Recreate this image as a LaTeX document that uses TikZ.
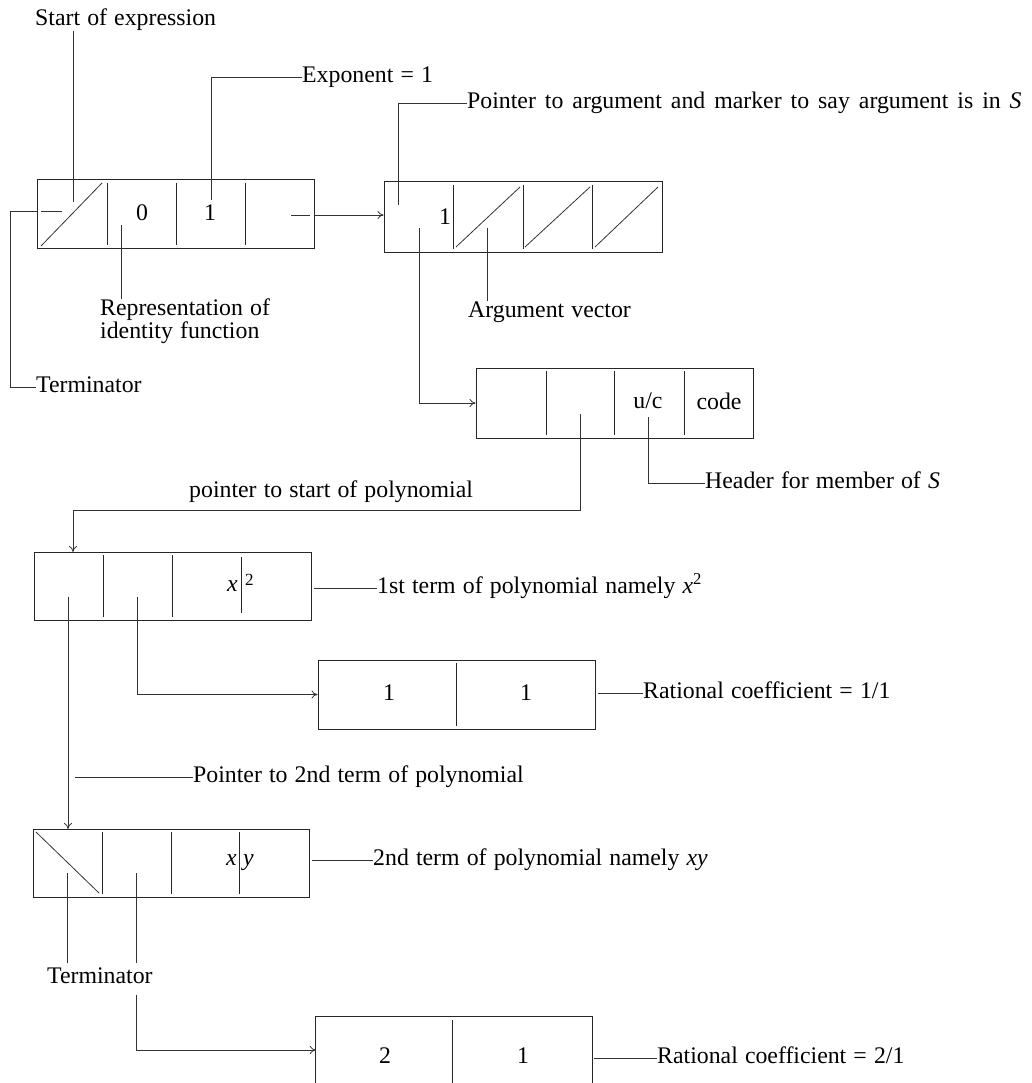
\documentclass[tikz,border=0pt]{standalone}
\usepackage{fontspec}
\setmainfont[WordSpace=1.2]{Liberation Serif}
\usetikzlibrary{arrows.meta}
\newcommand{\diafs}{\fontsize{23.8}{20}\selectfont}
\newcommand{\diasmall}{\fontsize{17}{18}\selectfont}
\begin{document}
\begin{tikzpicture}[x=1pt,y=-1pt,
  cellbox/.style={draw=black!85, line width=1pt, rectangle, inner sep=0pt},
  boxline/.style={draw=black!85, line width=1pt},
  lab/.style={font=\diafs, inner sep=0pt, text height=16pt, text depth=5pt, anchor=west},
  val/.style={font=\diafs, inner sep=0pt},
  conn/.style={draw=black!80, line width=0.8pt},
  arr/.style={conn, -{To[length=6pt,width=8pt]}}]
\useasboundingbox (0,0) rectangle (1031,1083);

% ---------- boxes ----------
\node[cellbox, minimum width=277pt, minimum height=68pt] (b1) at (175.5,214) {};
\node[cellbox, minimum width=278pt, minimum height=70pt] (b2) at (523,217) {};
\node[cellbox, minimum width=277pt, minimum height=70pt] (b3) at (614.5,403) {};
\node[cellbox, minimum width=277pt, minimum height=68pt] (b4) at (172.5,586) {};
\node[cellbox, minimum width=277pt, minimum height=69pt] (b11) at (456.5,694.5) {};
\node[cellbox, minimum width=276pt, minimum height=68pt] (b5) at (171,863) {};
\node[inner sep=0pt, minimum width=276pt, minimum height=66pt] (b6) at (454,1050) {};
\draw[boxline] (b6.south west) -- (b6.north west) -- (b6.north east) -- (b6.south east);

% ---------- dividers ----------
\foreach \x in {107,176,245} \draw[boxline] (\x,183) -- (\x,245);
\foreach \x in {453,523,592} \draw[boxline] (\x,185) -- (\x,249);
\foreach \x in {546,614,684} \draw[boxline] (\x,371) -- (\x,435);
\foreach \x in {103,172} \draw[boxline] (\x,555) -- (\x,617);
\draw[boxline] (241,557) -- (241,613);
\draw[boxline] (456,663) -- (456,726);
\foreach \x in {102,171} \draw[boxline] (\x,832) -- (\x,894);
\draw[boxline] (239,832) -- (239,894);
\draw[boxline] (452,1020) -- (452,1083);

% ---------- cell marks ----------
\draw[conn] (41,211) -- (62,211);
\draw[conn] (41,246) -- (102,183);
\draw[conn] (456,247) -- (520,187);
\draw[conn] (525,247) -- (590,187);
\draw[conn] (595,247) -- (658,187);
\draw[conn] (36,832) -- (99,893);

% ---------- values ----------
\node[val] (v10) at (142,213) {0};
\node[val] (v11) at (210,213) {1};
\node[val] (v21) at (445,217) {1};
\node[val] (v3a) at (648,401) {u/c};
\node[val] (v3b) at (719,401) {code};
\node[val, anchor=base east] (v4x) at (238,591) {\textit{x}};
\node[val, anchor=base west, font=\diasmall] (v4e) at (245,585) {2};
\node[val] (v11a) at (389,693) {1};
\node[val] (v11b) at (526,693) {1};
\node[val, anchor=base east] (v5x) at (237,865) {\textit{x}};
\node[val, anchor=base west] (v5y) at (243,865) {\textit{y}};
\node[val] (v6a) at (385,1056) {2};
\node[val] (v6b) at (523,1056) {1};

% ---------- labels ----------
\node[lab] (lstart) at (35,20) {Start of expression};
\node[lab] (lexp) at (302,77) {Exponent = 1};
\node[lab] (lptr) at (467,103) {\spaceskip=9pt plus 1pt Pointer to argument and marker to say argument is in \textit{S}};
\node[anchor=north west, inner sep=0pt, align=left, font=\diafs] (lrep) at (100,299) {Representation of\\identity function};
\node[lab] (lterm1) at (36,387) {Terminator};
\node[lab] (largv) at (468,312) {Argument vector};
\node[lab] (lhead) at (705,483) {Header for member of \textit{S}};
\node[lab] (lpsp) at (189,492) {pointer to start of polynomial};
\node[lab] (l1st) at (377,588) {1st term of polynomial namely \textit{x}\textsuperscript{2}};
\node[lab] (lrc1) at (643,693) {Rational coefficient = 1/1};
\node[lab] (lp2) at (193,777) {Pointer to 2nd term of polynomial};
\node[lab] (l2nd) at (373,860) {2nd term of polynomial namely \textit{xy}};
\node[lab] (lterm2) at (47,978) {Terminator};
\node[lab] (lrc2) at (657,1058) {Rational coefficient = 2/1};

% ---------- connectors ----------
\coordinate (t1) at (73,202);
\draw[conn] (lstart.south -| t1) -- (t1);
\coordinate (t3) at (211,200);
\draw[conn] (lexp.west) -| (t3);
\coordinate (t0) at (37,211);
\draw[conn] (t0) -- ++(-27,0) |- (lterm1.west);
\coordinate (t2) at (121,225);
\draw[conn] (t2) -- (t2 |- lrep.north);
\coordinate (t4) at (398,205);
\draw[conn] (t4) |- (lptr.west);
\coordinate (p1) at (291,215);
\draw[conn] (p1) -- (310,215);
\draw[arr] (b1.east |- p1) -- (b2.west |- p1);
\coordinate (t5) at (419,228);
\draw[arr] (t5) |- (b3.west);
\coordinate (t6) at (487,228);
\draw[conn] (t6) -- (t6 |- largv.north);
\coordinate (t7) at (580,414);
\coordinate (a4) at (73,552);
\draw[arr] (t7) -- ++(0,96) -| (a4);
\coordinate (t8) at (648,417);
\draw[conn] (t8) |- (lhead.west);
\coordinate (t9) at (68,597);
\coordinate (a5) at (68,829);
\draw[arr] (t9) -- (a5);
\coordinate (f1) at (75,777);
\draw[conn] (f1) -- (lp2.west);
\coordinate (t10) at (137,597);
\draw[arr] (t10) |- (b11.west);
\draw[conn, shorten <=2pt] (b4.east |- l1st.west) -- (l1st.west);
\draw[conn, shorten <=2pt] (b11.east |- lrc1.west) -- (lrc1.west);
\draw[conn, shorten <=2pt] (b5.east |- l2nd.west) -- (l2nd.west);
\draw[conn, shorten <=2pt] (b6.east |- lrc2.west) -- (lrc2.west);
\coordinate (t11) at (67,873);
\draw[conn, shorten >=4pt] (t11) -- (t11 |- lterm2.north);
\coordinate (t12) at (136,873);
\draw[conn, shorten >=4pt] (t12) -- (t12 |- lterm2.north);
\draw[arr, shorten <=6pt] (t12 |- lterm2.south) |- (b6.west);
\end{tikzpicture}
\end{document}
